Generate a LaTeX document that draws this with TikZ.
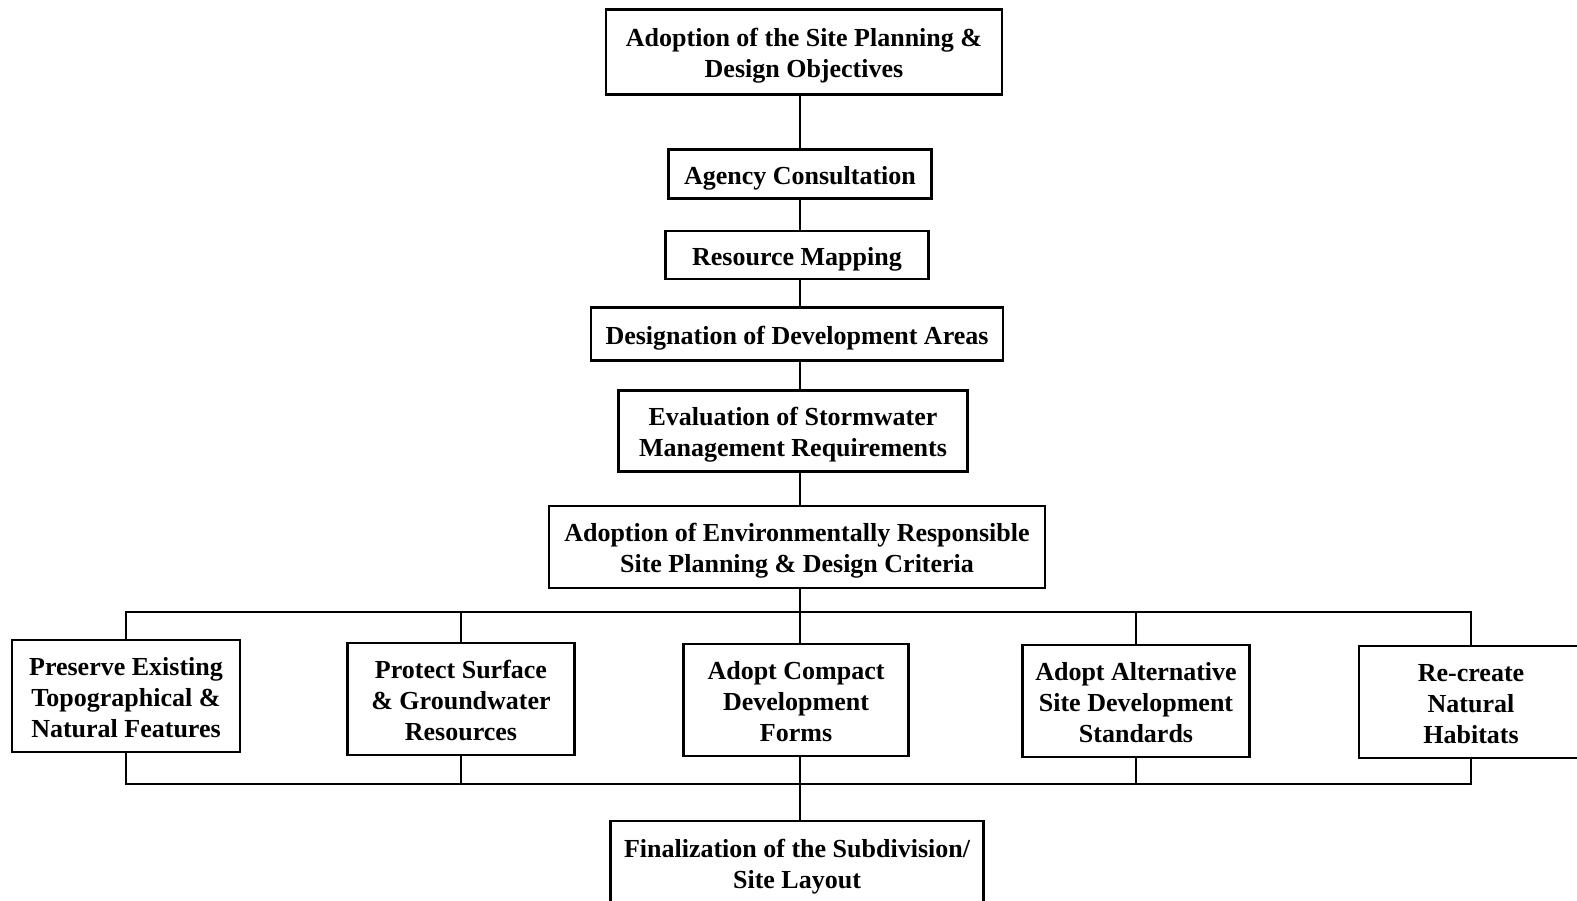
\documentclass[tikz,border=0pt]{standalone}
\usepackage{fontspec}
\setmainfont{Liberation Serif}
\newcommand{\bxt}[1]{\raisebox{-1.9pt}[\height][\depth]{\begin{tabular}{@{}c@{}}#1\end{tabular}}}
\begin{document}
\begin{tikzpicture}[x=0.5pt,y=-0.5pt,
  box/.style={draw, line width=1.1pt, inner sep=0pt, align=center,
    font=\fontsize{13pt}{15.5pt}\selectfont\bfseries},
  conn/.style={line width=1.35pt}]
\useasboundingbox (0,0) rectangle (1577,900);
\coordinate (spine) at (800,0);
\node[box, minimum width=198pt, minimum height=42.5pt] (top) at (804,52) {\bxt{Adoption of the Site Planning \&\\Design Objectives}};
\node[box, minimum width=131.5pt, minimum height=24.5pt] (agency) at (800,174) {\bxt{Agency Consultation}};
\node[box, minimum width=131.5pt, minimum height=24pt] (res) at (797,255) {\bxt{Resource Mapping}};
\node[box, minimum width=206pt, minimum height=26.5pt] (des) at (797,334) {\bxt{Designation of Development Areas}};
\node[box, minimum width=174.5pt, minimum height=40.5pt] (eval) at (793,431) {\bxt{Evaluation of Stormwater\\Management Requirements}};
\node[box, minimum width=248pt, minimum height=41pt] (env) at (797,547) {\bxt{Adoption of Environmentally Responsible\\Site Planning \& Design Criteria}};
\coordinate (bt) at (800,612);
\coordinate (bb) at (800,784);
\node[box, minimum width=114pt, minimum height=56pt] (A) at (126,696) {\bxt{Preserve Existing\\Topographical \&\\Natural Features}};
\node[box, minimum width=113.5pt, minimum height=56pt] (B) at (461,699) {\bxt{Protect Surface\\\& Groundwater\\Resources}};
\node[box, minimum width=112.5pt, minimum height=56pt] (C) at (796,700) {\bxt{Adopt Compact\\Development\\Forms}};
\node[box, minimum width=113.5pt, minimum height=56pt] (D) at (1136,701) {\bxt{Adopt Alternative\\Site Development\\Standards}};
\node[box, minimum width=112pt, minimum height=56pt] (E) at (1471,702) {\bxt{Re-create\\Natural\\Habitats}};
\node[box, minimum width=186.5pt, minimum height=42pt] (fin) at (797,863) {\bxt{Finalization of the Subdivision/\\Site Layout}};
\draw[conn] (top.south -| spine) -- (agency.north -| spine);
\draw[conn] (agency.south -| spine) -- (res.north -| spine);
\draw[conn] (res.south -| spine) -- (des.north -| spine);
\draw[conn] (des.south -| spine) -- (eval.north -| spine);
\draw[conn] (eval.south -| spine) -- (env.north -| spine);
\draw[conn] (env.south -| spine) -- (C.north -| spine);
\draw[conn] (A.north) -- (A.north |- bt) -- (E.north |- bt) -- (E.north);
\draw[conn] (B.north) -- (B.north |- bt);
\draw[conn] (D.north) -- (D.north |- bt);
\draw[conn] (A.south) -- (A.south |- bb) -- (E.south |- bb) -- (E.south);
\draw[conn] (B.south) -- (B.south |- bb);
\draw[conn] (D.south) -- (D.south |- bb);
\draw[conn] (C.south -| spine) -- (fin.north -| spine);
\end{tikzpicture}
\end{document}
